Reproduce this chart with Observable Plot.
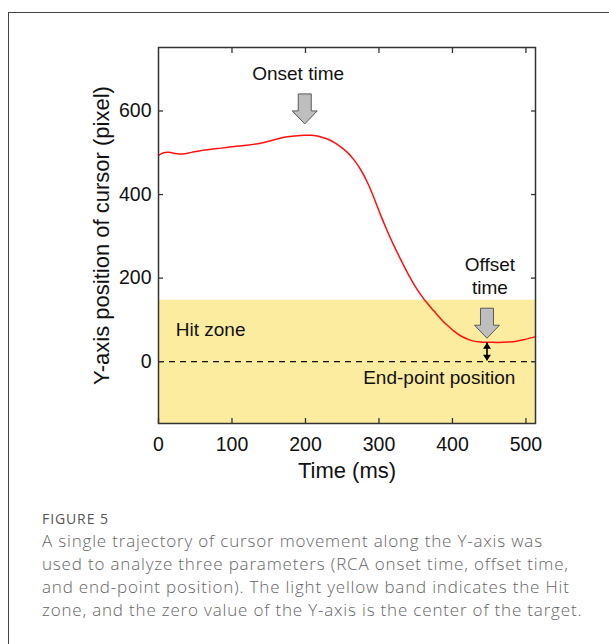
<!DOCTYPE html>
<html>
<head>
<meta charset="utf-8">
<script src="https://cdn.jsdelivr.net/npm/d3@7"></script>
<script src="https://cdn.jsdelivr.net/npm/@observablehq/plot@0.6"></script>
<style>
  html, body { margin: 0; padding: 0; background: #fff; overflow: hidden; }
  #wrap { position: relative; width: 609px; height: 644px; overflow: hidden; }
  #frame { position: absolute; left: 8px; top: 12px; width: 800px; height: 800px;
           border-left: 1.5px solid #444; border-top: 1.5px solid #444; }
  #chart { position: absolute; left: 0; top: 0; }
  #figlabel { position: absolute; left: 42px; top: 510px; font-family: "Open Sans", sans-serif;
              font-size: 14px; line-height: 18px; color: #555; letter-spacing: 0.9px; }
  #caption { position: absolute; left: 42px; top: 529px; font-family: "Open Sans", sans-serif;
             font-weight: 300; font-size: 17px; line-height: 23px; color: #666; letter-spacing: 0.82px; white-space: nowrap; }
</style>
</head>
<body>
<div id="wrap">
  <div id="frame"></div>
  <div id="chart"></div>
  <div id="figlabel">FIGURE 5</div>
  <div id="caption"></div>
</div>
<script>
// ---- data ----
const timeMs = [0, 7, 14, 24, 33, 45, 57, 80, 103, 120, 139, 155, 171, 185, 198, 208, 216, 228, 239, 248, 257, 266, 275, 284, 293, 302, 311, 320, 330, 339, 348, 357, 366, 375, 384, 393, 402, 411, 425, 438, 450, 462, 475, 487, 500, 513];
const cursorY = [494, 500, 501, 498, 497, 501, 505, 510, 515, 518, 523, 530, 537, 540, 542, 542, 540, 534, 525, 514, 501, 483, 460, 430, 393, 352, 314, 279, 243, 212, 184, 160, 139, 121, 103, 87, 73, 62, 51, 47, 46.5, 46, 47, 49, 54, 60];
const xTicks = [0, 100, 200, 300, 400, 500];
const yTicks = [0, 200, 400, 600];
const xDomain = [0, 513];
const yDomain = [-148, 752];
const hitZone = [-148, 147];
const endPoint = 0;
// big grey arrows: onset and offset (time, centre value)
const arrowTimes = [199, 447];
const arrowValues = [605, 92];
// double arrow between trajectory end and target centre
const gapTime = 447;
const gapRange = [2, 45];
// annotation text
const noteLabels = ["Onset time", "Offset\ntime", "Hit zone", "End-point position"];
const noteTimes = [190, 451, 23.5, 382];
const noteValues = [691, 207, 77, -36];
const noteAnchors = ["middle", "middle", "start", "middle"];
const xLabel = "Time (ms)";
const yLabel = "Y-axis position of cursor (pixel)";
const captionLines = [
  "A single trajectory of cursor movement along the Y-axis was",
  "used to analyze three parameters (RCA onset time, offset time,",
  "and end-point position). The light yellow band indicates the Hit",
  "zone, and the zero value of the Y-axis is the center of the target."
];

// ---- build ----
const traj = timeMs.map((t, i) => ({t, y: cursorY[i]}));
const arrows = arrowTimes.map((t, i) => ({t, v: arrowValues[i]}));
const notes = noteLabels.map((label, i) => ({label, t: noteTimes[i], v: noteValues[i], anchor: noteAnchors[i]}));

const downArrow = {draw(ctx) {
  ctx.moveTo(-6.5, -15); ctx.lineTo(6.5, -15); ctx.lineTo(6.5, 2); ctx.lineTo(12.5, 2);
  ctx.lineTo(0, 15); ctx.lineTo(-12.5, 2); ctx.lineTo(-6.5, 2); ctx.closePath();
}};
const headUp = {draw(ctx) { ctx.moveTo(0, 0); ctx.lineTo(4, 6); ctx.lineTo(-4, 6); ctx.closePath(); }};
const headDown = {draw(ctx) { ctx.moveTo(0, 0); ctx.lineTo(4, -6); ctx.lineTo(-4, -6); ctx.closePath(); }};

const font = "'Liberation Sans', Arial, Helvetica, sans-serif";

const chart = Plot.plot({
  width: 609,
  height: 500,
  marginLeft: 158,
  marginRight: 74,
  marginTop: 47,
  marginBottom: 77,
  style: {fontFamily: font, background: "transparent", color: "#111"},
  x: {domain: xDomain},
  y: {domain: yDomain},
  marks: [
    Plot.rect([hitZone], {x1: xDomain[0], x2: xDomain[1], y1: d => d[0], y2: d => d[1], fill: "#fcec9f"}),
    Plot.ruleY([endPoint], {stroke: "#111", strokeWidth: 1.2, strokeDasharray: "6,5"}),
    Plot.line(traj, {x: "t", y: "y", stroke: "#ff1010", strokeWidth: 1.5, curve: "catmull-rom"}),
    Plot.dot(arrows, {x: "t", y: "v", symbol: downArrow, fill: "#bebebe", stroke: "#5a5a5a", strokeWidth: 1}),
    Plot.ruleX([gapTime], {y1: gapRange[0], y2: gapRange[1], stroke: "#000", strokeWidth: 1.6}),
    Plot.dot([gapRange[1]], {x: gapTime, y: d => d, symbol: headUp, fill: "#000", stroke: "none"}),
    Plot.dot([gapRange[0]], {x: gapTime, y: d => d, symbol: headDown, fill: "#000", stroke: "none"}),
    Plot.text(notes.filter(d => d.anchor === "middle"), {x: "t", y: "v", text: "label", fontSize: 19, lineHeight: 1.2, textAnchor: "middle", fill: "#111"}),
    Plot.text(notes.filter(d => d.anchor === "start"), {x: "t", y: "v", text: "label", fontSize: 19, textAnchor: "start", fill: "#111"}),
    Plot.frame({stroke: "#333", strokeWidth: 1.5}),
    Plot.axisX({anchor: "bottom", ticks: xTicks, tickSize: -5, tickPadding: 19, fontSize: 19.5, label: null, stroke: "#333", strokeWidth: 1.3}),
    Plot.axisX({anchor: "top", ticks: xTicks.slice(1), tickSize: -5, fill: "none", label: null, stroke: "#333", strokeWidth: 1.3}),
    Plot.axisY({anchor: "left", ticks: yTicks, tickSize: -5, tickPadding: 12, fontSize: 19.5, label: null, stroke: "#333", strokeWidth: 1.3}),
    Plot.axisY({anchor: "right", ticks: yTicks, tickSize: -5, fill: "none", label: null, stroke: "#333", strokeWidth: 1.3}),
    Plot.text([xLabel], {text: d => d, frameAnchor: "bottom", lineAnchor: "middle", dy: 47, fontSize: 22, fill: "#111"}),
    Plot.text([yLabel], {text: d => d, frameAnchor: "left", textAnchor: "middle", lineAnchor: "middle", dx: -57, rotate: -90, fontSize: 22, fill: "#111"})
  ]
});
document.getElementById("chart").appendChild(chart);
document.getElementById("caption").innerHTML = captionLines.join("<br>");
</script>
</body>
</html>
